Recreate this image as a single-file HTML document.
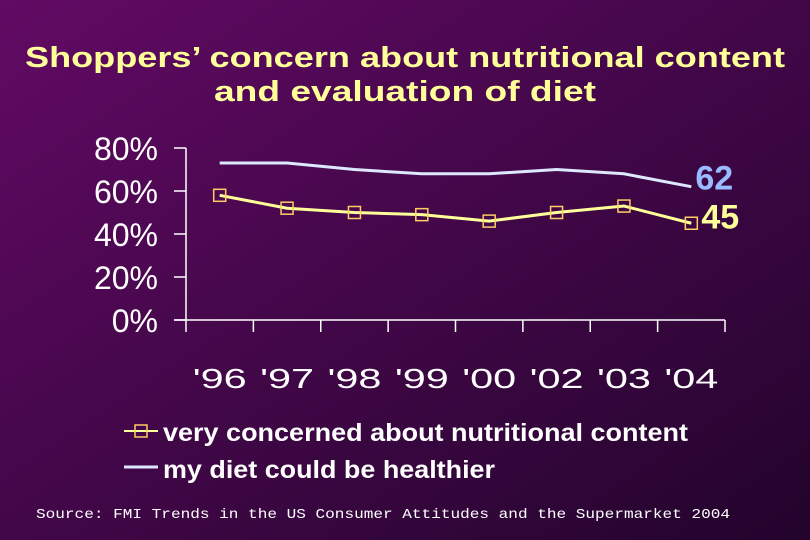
<!DOCTYPE html>
<html><head><meta charset="utf-8"><style>
body{margin:0;width:810px;height:540px;overflow:hidden}
svg{display:block}
</style></head><body>
<svg id="chart" width="810" height="540" xmlns="http://www.w3.org/2000/svg">
<defs><linearGradient id="bg" x1="0" y1="0" x2="1" y2="1">
<stop offset="0" stop-color="#620a64"/><stop offset="1" stop-color="#22042c"/></linearGradient></defs>
<rect width="810" height="540" fill="url(#bg)"/>
<g font-family="'Comic Sans MS','Liberation Sans',sans-serif" font-weight="bold" fill="#ffff99" font-size="29">
<text x="25" y="67" textLength="760" lengthAdjust="spacingAndGlyphs">Shoppers’ concern about nutritional content</text>
<text x="214" y="101" textLength="382" lengthAdjust="spacingAndGlyphs">and evaluation of diet</text>
</g>
<g id="plot" font-family="'Liberation Sans',sans-serif"></g>
<text x="36" y="518" font-family="'Comic Sans MS','Liberation Mono',monospace" font-size="14" fill="#ffffff" textLength="694" lengthAdjust="spacingAndGlyphs">Source: FMI Trends in the US Consumer Attitudes and the Supermarket 2004</text>
</svg>
<script>
const categories=["'96","'97","'98","'99","'00","'02","'03","'04"];
const concernedValues=[58,52,50,49,46,50,53,45];
const healthierValues=[73,73,70,68,68,70,68,62];
const yTicks=[0,20,40,60,80];
const yTickLabels=["0%","20%","40%","60%","80%"];
const NS="http://www.w3.org/2000/svg";
const g=document.getElementById('plot');
const x0=186,x1=725,yBase=320,yTop=148;
const step=(x1-x0)/categories.length;
const xS=i=>x0+step*(i+0.5);
const yS=v=>yBase-(v/80)*(yBase-yTop);
function mk(t,a,p){const e=document.createElementNS(NS,t);for(const k in a)e.setAttribute(k,a[k]);(p||g).appendChild(e);return e;}
let e=mk('line',{x1:x0,y1:yTop,x2:x0,y2:yBase,stroke:'#fff','stroke-width':1.5});


e=mk('line',{x1:x0-12,y1:yBase,x2:x1,y2:yBase,stroke:'#fff','stroke-width':1.5});


yTicks.forEach((v,i)=>{
 const t=mk('line',{x1:x0-12,y1:yS(v),x2:x0,y2:yS(v),stroke:'#fff','stroke-width':1.5});
 
 
 const l=mk('text',{x:158,y:yS(v)+12,'text-anchor':'end','font-size':32,fill:'#fff'});
 l.textContent=yTickLabels[i];
 
 
});
for(let i=0;i<=categories.length;i++){
 const t=mk('line',{x1:x0+step*i,y1:yBase,x2:x0+step*i,y2:yBase+12,stroke:'#fff','stroke-width':1.5});
 
 
}
categories.forEach((c,i)=>{
 const l=mk('text',{x:xS(i),y:388,'text-anchor':'middle','font-size':28,fill:'#fff','font-family':"'Comic Sans MS','Liberation Sans',sans-serif",textLength:54,lengthAdjust:'spacingAndGlyphs'});
 l.textContent=c;
 
 
});
e=mk('polyline',{points:healthierValues.map((v,i)=>xS(i)+','+yS(v)).join(' '),fill:'none',stroke:'#dde8ff','stroke-width':3});


e=mk('polyline',{points:concernedValues.map((v,i)=>xS(i)+','+yS(v)).join(' '),fill:'none',stroke:'#ffff99','stroke-width':3});


concernedValues.forEach((v,i)=>{
 const m=mk('rect',{x:xS(i)-6,y:yS(v)-6,width:12,height:12,fill:'none',stroke:'#ffcc66','stroke-width':1.5});
 
 
});
const n=categories.length-1;
e=mk('text',{x:xS(n)+4,y:yS(healthierValues[n])+3,'font-size':34,fill:'#99bbff','font-weight':'bold'});
e.textContent=healthierValues[n];


e=mk('text',{x:xS(n)+10,y:yS(concernedValues[n])+5,'font-size':34,fill:'#ffff99','font-weight':'bold'});
e.textContent=concernedValues[n];


// legend
e=mk('line',{x1:124,y1:431,x2:158,y2:431,stroke:'#ffff99','stroke-width':2});


mk('rect',{x:135,y:425,width:12,height:12,fill:'none',stroke:'#ffcc66','stroke-width':1.5});
e=mk('text',{x:163,y:441,'font-size':25,'font-weight':'bold',fill:'#fff',textLength:525,lengthAdjust:'spacingAndGlyphs'});
e.textContent='very concerned about nutritional content';


e=mk('line',{x1:124,y1:467,x2:158,y2:467,stroke:'#dde8ff','stroke-width':3});


e=mk('text',{x:163,y:478,'font-size':25,'font-weight':'bold',fill:'#fff',textLength:332,lengthAdjust:'spacingAndGlyphs'});
e.textContent='my diet could be healthier';


</script>
</body></html>
